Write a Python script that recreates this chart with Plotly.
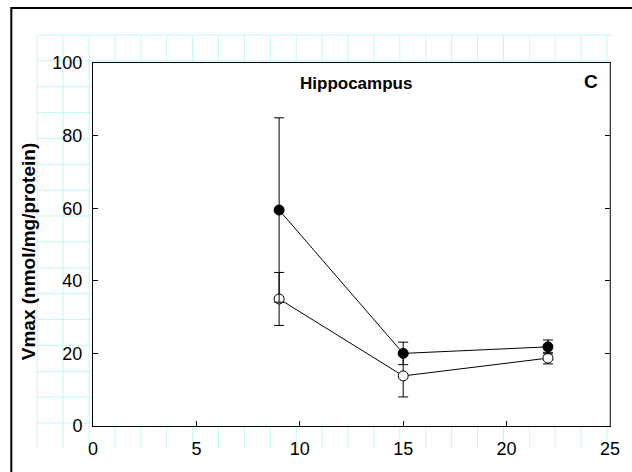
import plotly.graph_objects as go

# ---- data ----
days = [9, 15, 22]
filled_vals = [59.5, 20.0, 21.8]
filled_err = [25.4, 3.1, 1.9]
open_vals = [35.0, 13.8, 18.7]
open_err = [7.3, 5.8, 1.6]
x_ticks = [0, 5, 10, 15, 20, 25]
y_ticks = [0, 20, 40, 60, 80, 100]
panel_title = "Hippocampus"
panel_letter = "C"
y_title = "Vmax (nmol/mg/protein)"

# ---- layout geometry (pixels) ----
W, H = 632, 472
L, R, T, B = 93, 612, 63, 426
pw, ph = R - L, B - T

def px(x):
    return (x - L) / pw

def py(y):
    return (B - y) / ph

FONT = "Liberation Sans, Arial, sans-serif"
GRID = "#c2f8f8"

shapes = []
# graph-paper grid in the background
gx0, gx1, gy0, gy1 = 37, 614, 35, 448
for k in range(23):
    x = 37 + 26 * k
    shapes.append(dict(type="line", xref="paper", yref="paper", x0=px(x), x1=px(x),
                       y0=py(gy0), y1=py(gy1), line=dict(color=GRID, width=1), layer="below"))
for k in range(16):
    y = 35 + 25.87 * k
    shapes.append(dict(type="line", xref="paper", yref="paper", x0=px(gx0), x1=px(gx1),
                       y0=py(y), y1=py(y), line=dict(color=GRID, width=1), layer="below"))
# white plot area over the grid
shapes.append(dict(type="rect", xref="paper", yref="paper", x0=0, x1=1, y0=0, y1=1,
                   fillcolor="white", line=dict(width=0), layer="below"))
# outer frame
shapes.append(dict(type="rect", xref="paper", yref="paper", x0=px(11), x1=px(660),
                   y0=py(8), y1=py(500), line=dict(color="black", width=2), layer="above"))
# grey right edge of the plot box
shapes.append(dict(type="line", xref="paper", yref="paper", x0=1, x1=1, y0=0, y1=1,
                   line=dict(color="#808080", width=1), layer="above"))

fig = go.Figure()
fig.add_trace(go.Scatter(
    x=days, y=open_vals, mode="lines+markers",
    line=dict(color="black", width=1),
    marker=dict(symbol="circle", size=10, color="white", line=dict(color="black", width=1)),
    error_y=dict(type="data", array=open_err, visible=True, color="black", thickness=1, width=5),
    showlegend=False,
))
fig.add_trace(go.Scatter(
    x=days, y=filled_vals, mode="lines+markers",
    line=dict(color="black", width=1),
    marker=dict(symbol="circle", size=10, color="black", line=dict(color="black", width=1)),
    error_y=dict(type="data", array=filled_err, visible=True, color="black", thickness=1, width=5),
    showlegend=False,
))

fig.update_layout(
    width=W, height=H,
    margin=dict(l=L, r=W - R, t=T, b=H - B, pad=0),
    paper_bgcolor="white", plot_bgcolor="white",
    font=dict(family=FONT, size=18, color="black"),
    shapes=shapes,
    annotations=[
        dict(text="<b>" + panel_title + "</b>", xref="paper", yref="paper",
             x=px(357), y=py(83), xanchor="center", yanchor="middle", showarrow=False,
             font=dict(family=FONT, size=17, color="black")),
        dict(text="<b>" + panel_letter + "</b>", xref="paper", yref="paper",
             x=px(593), y=py(82), xanchor="center", yanchor="middle", showarrow=False,
             font=dict(family=FONT, size=19, color="black")),
        dict(text="<b>" + y_title + "</b>", xref="paper", yref="paper",
             x=px(28), y=py(252), xanchor="center", yanchor="middle", showarrow=False,
             textangle=-90, font=dict(family=FONT, size=19, color="black")),
    ],
    xaxis=dict(range=[0, 25], tickvals=x_ticks, ticktext=[str(v) for v in x_ticks],
               ticks="inside", ticklen=5, tickwidth=1, tickcolor="black",
               showline=True, linecolor="black", linewidth=1, mirror=True,
               showgrid=False, zeroline=False, ticklabelstandoff=6,
               tickfont=dict(family=FONT, size=18, color="black")),
    yaxis=dict(range=[0, 100], tickvals=y_ticks, ticktext=[str(v) for v in y_ticks],
               ticks="inside", ticklen=5, tickwidth=1, tickcolor="black",
               showline=True, linecolor="black", linewidth=1, mirror="ticks",
               showgrid=False, zeroline=False, ticklabelstandoff=6,
               tickfont=dict(family=FONT, size=18, color="black")),
)

fig.write_html("out.html")
